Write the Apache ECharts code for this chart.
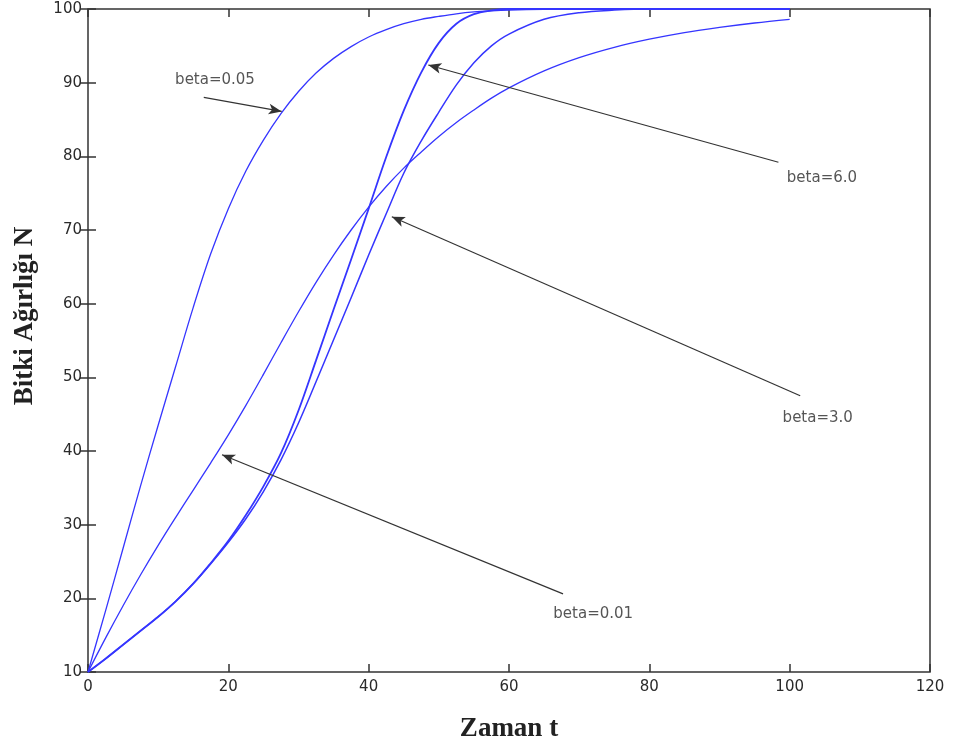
<!DOCTYPE html>
<html>
<head>
<meta charset="utf-8">
<script src="https://cdn.jsdelivr.net/npm/echarts@6/dist/echarts.min.js"></script>
<style>
  html, body { margin: 0; padding: 0; background: #fff; }
  #chart { width: 955px; height: 751px; }
</style>
</head>
<body>
<div id="chart"></div>
<script>
// Time points (Zaman t) shared by all growth curves
const tValues = [0, 2.5, 5, 7.5, 10, 12.5, 15, 17.5, 20, 22.5, 25, 27.5, 30, 32.5, 35, 37.5,
  40, 42.5, 45, 47.5, 50, 52.5, 55, 57.5, 60, 65, 70, 75, 80, 85, 90, 95, 100];

// Plant weight N for each beta
const beta005 = [10, 18.3, 26.8, 35.3, 43.5, 51.5, 59.5, 66.8, 72.9, 78.0, 82.2, 85.8, 88.8, 91.3, 93.3, 94.9,
  96.2, 97.2, 98.0, 98.6, 99.0, 99.35, 99.6, 99.75, 99.85, 99.95, 100, 100, 100, 100, 100, 100, 100];
const beta001 = [10, 14.6, 19.0, 23.2, 27.2, 31.0, 34.7, 38.4, 42.2, 46.2, 50.4, 54.7, 58.9, 62.9, 66.6, 70.0,
  73.1, 75.9, 78.4, 80.6, 82.7, 84.6, 86.3, 87.9, 89.3, 91.6, 93.4, 94.8, 95.9, 96.8, 97.5, 98.1, 98.6];
const beta30 = [10, 11.8, 13.7, 15.6, 17.5, 19.6, 22.0, 24.7, 27.6, 30.8, 34.5, 38.8, 43.8, 49.4, 55.1, 60.8,
  66.6, 72.2, 77.7, 82.1, 86.0, 89.7, 92.7, 95.0, 96.6, 98.6, 99.5, 99.85, 100, 100, 100, 100, 100];
const beta60 = [10, 11.8, 13.7, 15.6, 17.5, 19.6, 22.0, 24.8, 27.8, 31.3, 35.2, 39.7, 45.5, 52.3, 59.2, 66.0,
  72.9, 79.9, 86.2, 91.4, 95.4, 98.0, 99.3, 99.8, 100, 100, 100, 100, 100, 100, 100, 100, 100];

// Axis ticks
const xTicks = [0, 20, 40, 60, 80, 100, 120];
const yTicks = [10, 20, 30, 40, 50, 60, 70, 80, 90, 100];

// Annotation texts, where they sit, and the arrows pointing at each curve
const annoLabels = ['beta=0.05', 'beta=6.0', 'beta=3.0', 'beta=0.01'];
const annoTextAt = [[18.1, 90.4], [104.6, 77.0], [104.0, 44.4], [72.0, 17.9]];
const arrowFrom = [[16.5, 88.0], [98.4, 79.2], [101.5, 47.5], [67.7, 20.6]];
const arrowTo = [[27.6, 86.1], [48.5, 92.4], [43.3, 71.8], [19.1, 39.5]];

const pair = (ys) => tValues.map((t, i) => [t, ys[i]]);

const tickFont = { fontFamily: 'DejaVu Sans', fontSize: 15, color: '#2a2a2a' };
const curveColor = '#3535ff';

function curve(name, ys, width) {
  return {
    name: name, type: 'line', data: pair(ys), smooth: 0.35, showSymbol: false, clip: false,
    lineStyle: { color: curveColor, width: width }, itemStyle: { color: curveColor },
    animation: false, z: 3
  };
}

const chart = echarts.init(document.getElementById('chart'), null, { renderer: 'canvas' });

chart.setOption({
  backgroundColor: '#ffffff',
  animation: false,
  grid: {
    left: 88, right: 25, top: 9, bottom: 79,
    show: true, borderColor: '#333', borderWidth: 1.5, backgroundColor: 'transparent'
  },
  xAxis: [{
    type: 'value', min: xTicks[0], max: xTicks[xTicks.length - 1], interval: 20,
    name: 'Zaman t', nameLocation: 'middle', nameGap: 44,
    nameTextStyle: { fontFamily: 'Liberation Serif', fontWeight: 'bold', fontSize: 27, color: '#222' },
    axisLine: { show: false },
    axisTick: { show: true, inside: true, length: 8, lineStyle: { color: '#333', width: 1.5 } },
    axisLabel: Object.assign({ margin: 8 }, tickFont),
    splitLine: { show: false }
  }, {
    type: 'value', position: 'top', min: xTicks[0], max: xTicks[xTicks.length - 1], interval: 20,
    axisLine: { show: false },
    axisTick: { show: true, inside: true, length: 8, lineStyle: { color: '#333', width: 1.5 } },
    axisLabel: { show: false }, splitLine: { show: false }
  }],
  yAxis: [{
    type: 'value', min: yTicks[0], max: yTicks[yTicks.length - 1], interval: 10,
    axisLine: { show: false },
    axisTick: { show: true, inside: true, length: 8, lineStyle: { color: '#333', width: 1.5 } },
    axisLabel: Object.assign({ margin: 6 }, tickFont),
    splitLine: { show: false }
  }, {
    type: 'value', position: 'right', min: yTicks[0], max: yTicks[yTicks.length - 1], interval: 10,
    axisLine: { show: false },
    axisTick: { show: true, inside: true, length: 8, lineStyle: { color: '#333', width: 1.5 } },
    axisLabel: { show: false }, splitLine: { show: false }
  }],
  graphic: [{
    type: 'text', x: 25, y: 316, rotation: Math.PI / 2,
    style: {
      text: 'Bitki Ağırlığı N', fill: '#222', align: 'center', verticalAlign: 'middle',
      font: 'bold 27px "Liberation Serif"'
    }
  }],
  series: [
    curve('beta=0.05', beta005, 1.3),
    curve('beta=0.01', beta001, 1.3),
    curve('beta=3.0', beta30, 1.5),
    curve('beta=6.0', beta60, 1.8),
    {
      name: 'annotations', type: 'scatter', symbolSize: 0, silent: true, z: 5,
      data: annoLabels.map((txt, i) => ({ value: [annoTextAt[i][0], annoTextAt[i][1]], name: txt })),
      label: {
        show: true, position: 'inside', formatter: (p) => p.name,
        fontFamily: 'DejaVu Sans', fontSize: 15, color: '#2a2a2a'
      },
      markLine: {
        silent: true, animation: false,
        symbol: ['none', 'arrow'], symbolSize: [8, 13],
        lineStyle: { color: '#333', width: 1.2, type: 'solid' },
        label: { show: false },
        data: arrowFrom.map((f, i) => [
          { coord: f },
          { coord: arrowTo[i] }
        ])
      }
    }
  ]
});
</script>
</body>
</html>
